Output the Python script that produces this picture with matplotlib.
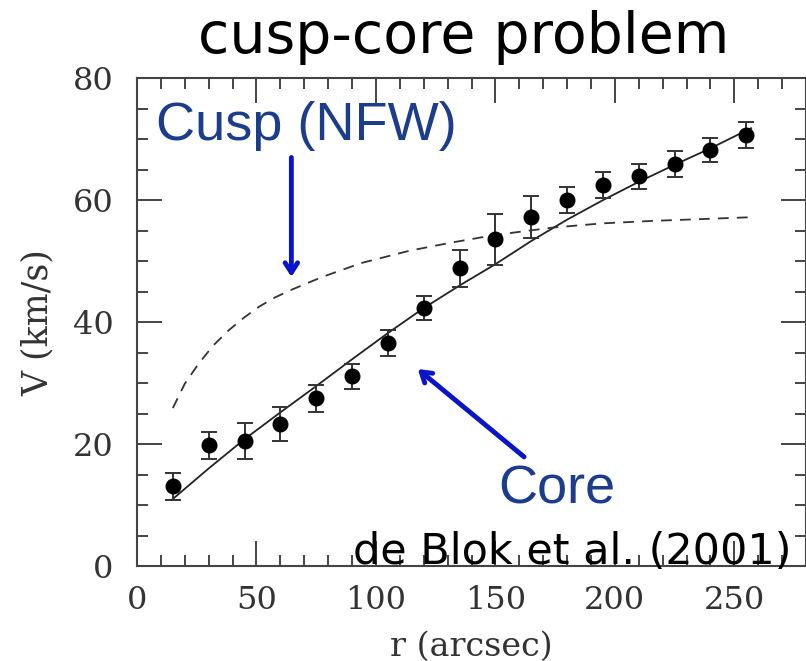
import numpy as np
import matplotlib.pyplot as plt
from matplotlib.ticker import MultipleLocator

# rotation curve data: radius (arcsec), velocity (km/s), error
r_obs = [15, 30, 45, 60, 75, 90, 105, 120, 135, 150, 165, 180, 195, 210, 225, 240, 255]
v_obs = [13.1, 19.8, 20.5, 23.3, 27.5, 31.1, 36.6, 42.3, 48.8, 53.6, 57.2, 60.0, 62.5, 63.9, 65.9, 68.2, 70.7]
v_err = [2.2, 2.2, 2.9, 2.8, 2.2, 2.1, 2.1, 2.0, 3.1, 4.2, 3.4, 2.1, 2.1, 2.1, 2.1, 2.0, 2.1]

# cored halo fit (solid)
r_core = [15, 30, 45, 60, 75, 90, 105, 120, 135, 150, 165, 180, 195, 210, 225, 240, 257]
v_core = [11.0, 16.0, 20.8, 25.2, 29.5, 33.9, 38.2, 42.3, 46.0, 49.5, 53.3, 56.8, 60.0, 63.0, 65.8, 68.5, 71.8]

# NFW cusp model (dashed)
r_nfw = [15, 20, 26, 32, 38.5, 45, 51, 57, 64, 77.5, 94, 114, 131, 150, 174, 195, 216, 257]
v_nfw = [25.9, 29.9, 33.3, 36.2, 38.7, 40.8, 42.5, 43.9, 45.2, 47.4, 49.7, 51.7, 53.0, 54.3, 55.5, 56.2, 56.6, 57.2]

fig = plt.figure(figsize=(8.06, 6.61), dpi=100)
ax = fig.add_axes([0.170, 0.1437, 0.830, 0.738])

ax.plot(r_core, v_core, color="#222222", lw=1.3)
ax.plot(r_nfw, v_nfw, color="#333333", lw=1.3, dashes=(6, 4.5))
ax.errorbar(r_obs, v_obs, yerr=v_err, fmt="o", color="black", ms=10.5,
            ecolor="#333333", elinewidth=1.4, capsize=6, capthick=1.4)

ax.set_xlim(0, 280)
ax.set_ylim(0, 80)
ax.xaxis.set_major_locator(MultipleLocator(50))
ax.xaxis.set_minor_locator(MultipleLocator(10))
ax.yaxis.set_major_locator(MultipleLocator(20))
ax.yaxis.set_minor_locator(MultipleLocator(5))
ax.tick_params(which="both", direction="in", top=True, right=True,
               color="#444444", width=1.4)
ax.tick_params(which="major", length=18, labelsize=23, labelcolor="#333333")
ax.tick_params(axis="x", which="major", pad=14)
ax.tick_params(axis="y", which="major", pad=17)
ax.tick_params(which="minor", length=8)
for lab in ax.get_xticklabels() + ax.get_yticklabels():
    lab.set_family("DejaVu Serif")
for s in ax.spines.values():
    s.set_color("#444444")
    s.set_linewidth(1.5)

ax.set_xlabel("r (arcsec)", family="DejaVu Serif", fontsize=24, color="#333333", labelpad=10)
ax.set_ylabel("V (km/s)", family="DejaVu Serif", fontsize=25, color="#333333", labelpad=13)

# annotations
ax.text(8, 69.8, "Cusp (NFW)", family="Liberation Sans", fontsize=39, color="#1c3c8c",
        va="baseline", ha="left", clip_on=False)
ax.annotate("", xy=(64.6, 47.4), xytext=(64.6, 67.0),
            arrowprops=dict(arrowstyle="->,head_length=0.7,head_width=0.45",
                            color="#0a14c8", lw=3.5, shrinkA=0, shrinkB=0))
ax.text(151.2, 10.3, "Core", family="Liberation Sans", fontsize=39, color="#1c3c8c",
        va="baseline", ha="left", clip_on=False)
ax.annotate("", xy=(117.5, 32.3), xytext=(162, 17.9),
            arrowprops=dict(arrowstyle="->,head_length=0.7,head_width=0.45",
                            color="#0a14c8", lw=3.5, shrinkA=0, shrinkB=0))
ax.text(90.4, 0.4, "de Blok et al. (2001)", family="DejaVu Sans", fontsize=31,
        color="black", va="baseline", ha="left", clip_on=False)

fig.text(0.575, 0.944, "cusp-core problem", family="DejaVu Sans", fontsize=41,
         color="black", ha="center", va="center")

fig.savefig("out.png", dpi=100)
